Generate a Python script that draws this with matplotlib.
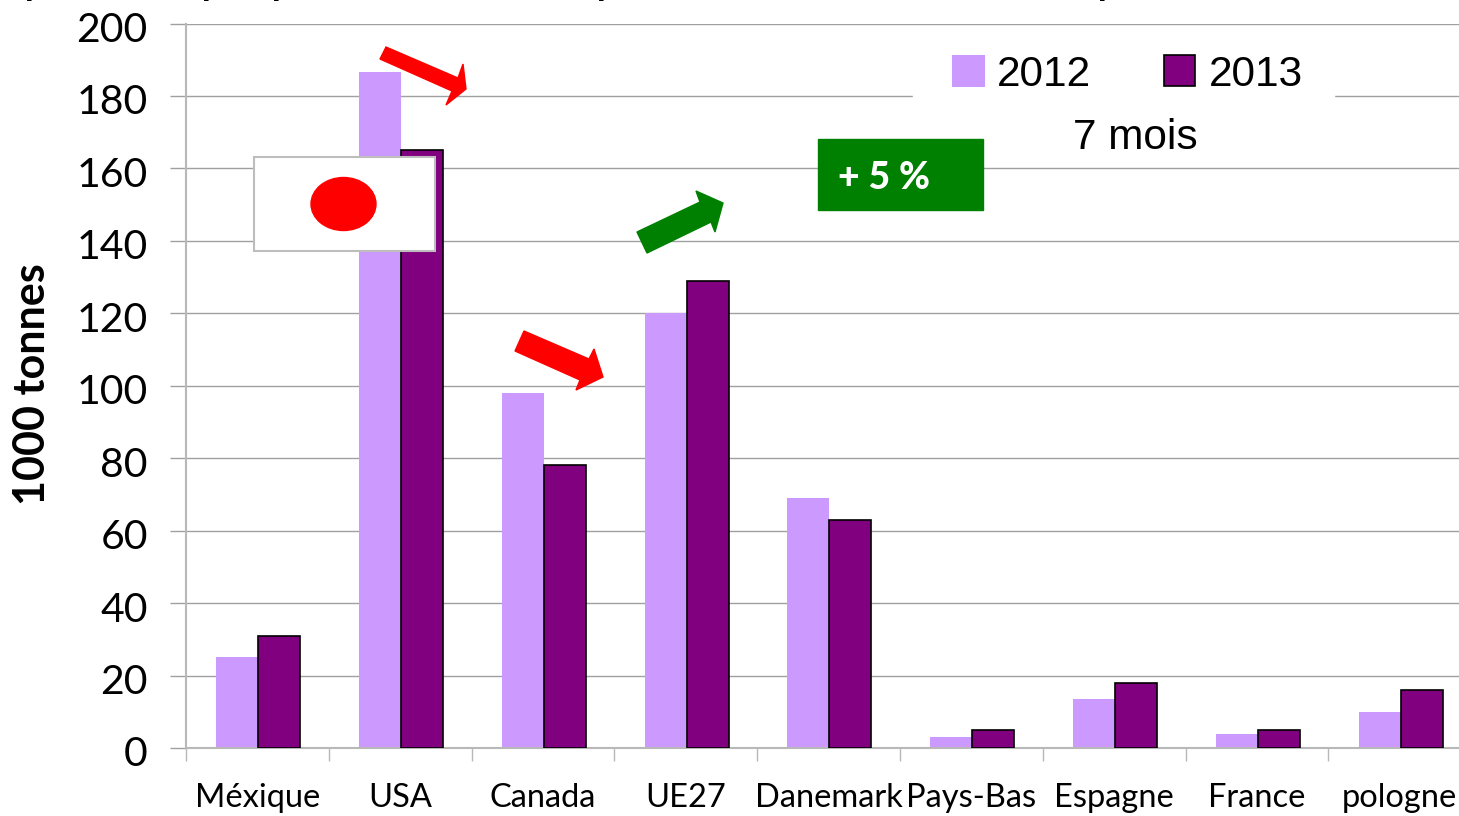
#! /usr/bin/python3

from matplotlib import pyplot as plt
import matplotlib.patches as mpatches
from matplotlib.transforms import Affine2D, ScaledTranslation
import numpy as np

categories = ['Méxique', 'USA', 'Canada', 'UE27', 'Danemark', 'Pays-Bas', 'Espagne', 'France', 'pologne']
values_2012 = [25, 186.5, 98, 120, 69, 3, 13.5, 4, 10]
values_2013 = [31, 165, 78, 129, 63, 5, 18, 5, 16]
y_ticks = [0, 20, 40, 60, 80, 100, 120, 140, 160, 180, 200]

W, H = 1459, 816
LIGHT = '#cc99ff'
DARK = '#800080'
GRID = '#a0a0a0'
AXIS = '#b8b8b8'

plt.rcParams['font.family'] = ['Lato', 'DejaVu Sans']

# image pixels, y going down
px = Affine2D().scale(1, -1).translate(0, H)

fig = plt.figure(figsize=(W / 100, H / 100), dpi=100)
left, top, bottom = 186, 23.5, 748
ax = fig.add_axes([left / W, 1 - bottom / H, (W - left) / W, (bottom - top) / H])

step = 142.8
bar_w = 42 / step
off = 0.7 / step
x = np.arange(len(categories))
ax.bar(x - bar_w / 2 + off, values_2012, bar_w, color=LIGHT, zorder=2)
ax.bar(x + bar_w / 2 + off, values_2013, bar_w, color=DARK, edgecolor='black', linewidth=1.2, zorder=3)

ax.set_xlim(-0.5, (W - left) / step - 0.5)
ax.set_ylim(0, 200)
ax.set_yticks(y_ticks)
ax.yaxis.grid(True, color=GRID, linewidth=1, zorder=1)
ax.set_axisbelow(True)
ax.tick_params(axis='y', length=11.5, width=1, color=GRID, pad=16, labelsize=29.5)
# labels sit a bit under their gridlines in the original
nudge = ScaledTranslation(0, -2.5 / 72, fig.dpi_scale_trans)
for lab in ax.get_yticklabels():
    lab.set_transform(lab.get_transform() + nudge)

ax.set_xticks(np.arange(len(categories)) - 0.5)
ax.set_xticklabels([])
ax.set_xticks(x, categories, minor=True)
ax.tick_params(axis='x', which='major', length=9, width=1, color=AXIS)
ax.tick_params(axis='x', which='minor', length=0, pad=25, labelsize=23.5)

ax.spines['right'].set_visible(False)
ax.spines['top'].set_visible(False)
ax.spines['left'].set_color(AXIS)
ax.spines['bottom'].set_color(AXIS)
ax.spines['left'].set_linewidth(1.5)
ax.spines['bottom'].set_linewidth(1.5)

fig.text(32, 384, '1000 tonnes', transform=px, rotation=90, ha='center', va='center',
         fontsize=31, fontweight='bold')

# white area behind the legend
fig.add_artist(mpatches.Rectangle((913, 50), 421, 60, transform=px, color='white', zorder=4))
fig.add_artist(mpatches.Rectangle((952, 55), 33, 32, transform=px, facecolor=LIGHT, edgecolor='none', zorder=5))
fig.add_artist(mpatches.Rectangle((1164, 55), 31, 31, transform=px, facecolor=DARK, edgecolor='black', linewidth=1.2, zorder=5))
fig.text(997, 75, '2012', transform=px, va='center', fontsize=30.5, family='Liberation Sans', zorder=6)
fig.text(1209, 75, '2013', transform=px, va='center', fontsize=30.5, family='Liberation Sans', zorder=6)
fig.text(1073, 138, '7 mois', transform=px, va='center', fontsize=30.5, family='Liberation Sans', zorder=6)

# flag
fig.add_artist(mpatches.Rectangle((254, 157), 180.5, 94, transform=px, facecolor='white', edgecolor='#bdbdbd', linewidth=1.5, zorder=4))
fig.add_artist(mpatches.Ellipse((343.5, 204), 65, 53, transform=px, color='#ff0000', zorder=5))

# trend arrows
usa_arrow = [(386, 47), (380, 59), (452, 91), (446, 105), (466, 89), (463, 64), (458, 78)]
can_arrow = [(524, 331), (515, 351), (580, 380), (576, 390), (603, 377), (594, 349), (589, 359)]
ue_arrow = [(637, 232), (647, 253), (711, 222), (715, 232), (723, 203), (696, 191), (700, 202)]
fig.add_artist(mpatches.Polygon(usa_arrow, transform=px, color='#ff0000', zorder=5))
fig.add_artist(mpatches.Polygon(can_arrow, transform=px, color='#ff0000', zorder=5))
fig.add_artist(mpatches.Polygon(ue_arrow, transform=px, color='#008000', zorder=5))

fig.add_artist(mpatches.Rectangle((818, 139), 164.5, 71, transform=px, color='#008000', zorder=5))
fig.text(838, 178, '+ 5 %', transform=px, va='center', color='white', fontsize=27, fontweight='black', zorder=6)

# title is cut off by the top edge, only the descenders show
for tx in [26, 203, 273, 598, 1099]:
    fig.text(tx, -5, 'p', transform=px, va='baseline', fontsize=27, fontweight='bold', fontstyle='italic')

plt.savefig('out.png', dpi=100)
